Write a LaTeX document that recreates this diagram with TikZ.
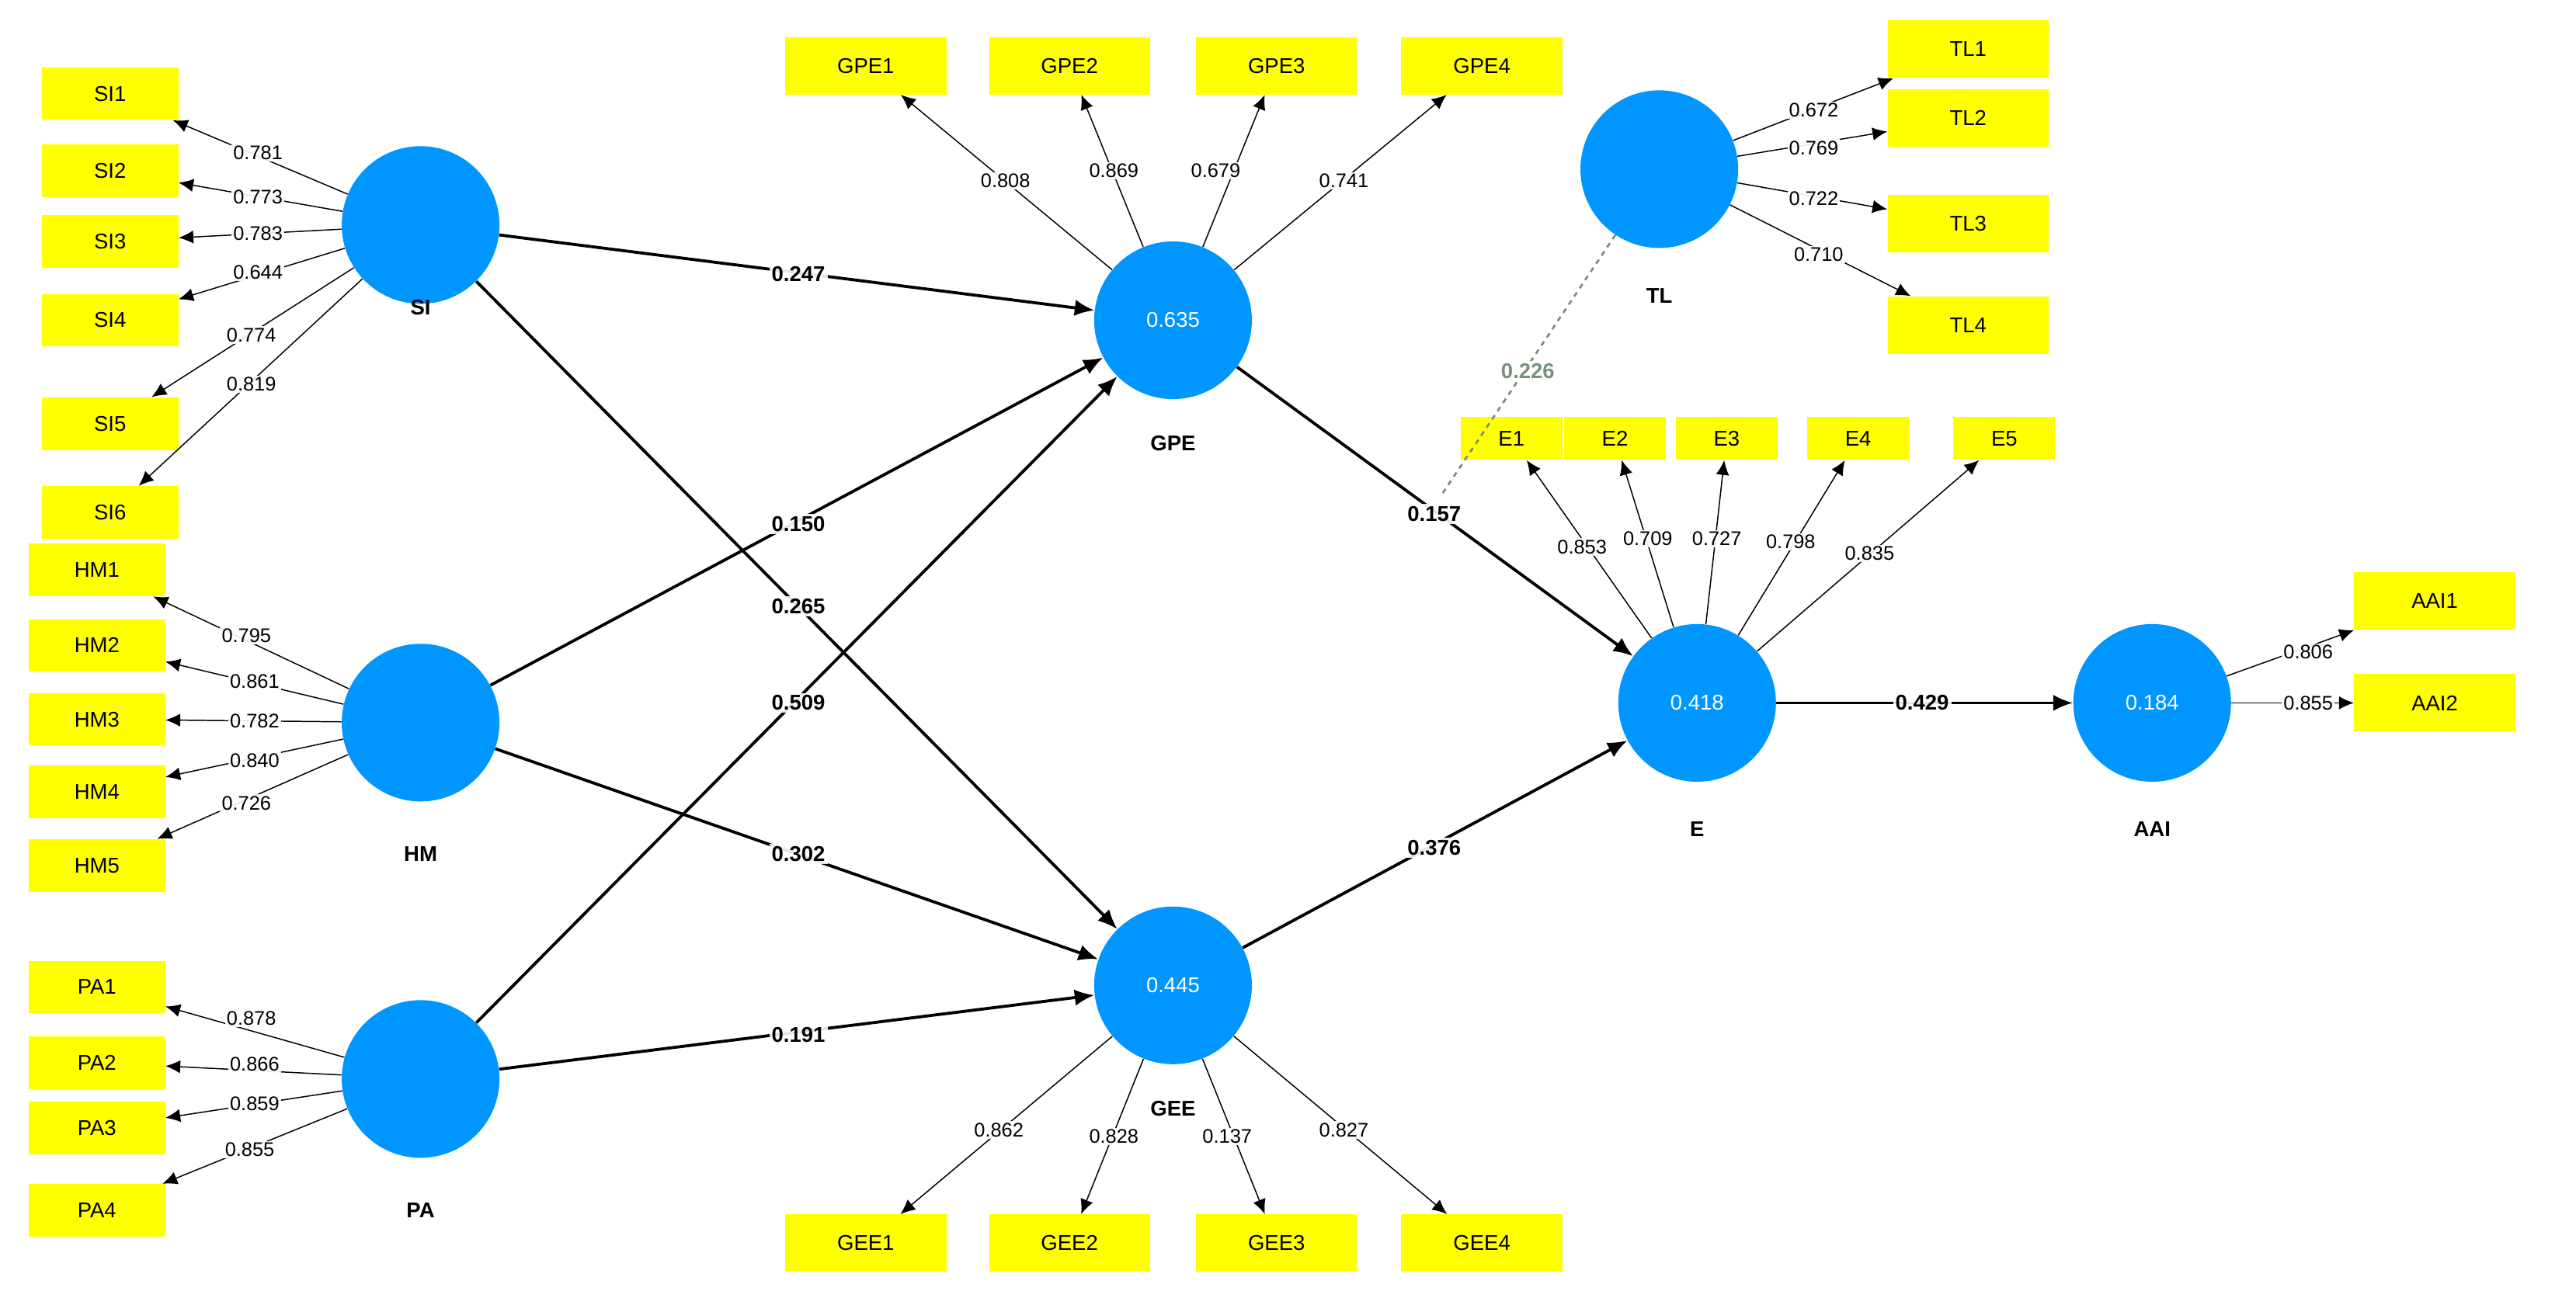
\documentclass[tikz,border=0pt]{standalone}
\usepackage{fontspec}
\setmainfont{Liberation Sans}
\usetikzlibrary{arrows.meta}
\definecolor{cblue}{RGB}{0,150,255}
\definecolor{cyel}{RGB}{255,255,0}
\definecolor{cgreen}{RGB}{120,145,125}
\begin{document}
\begin{tikzpicture}[x=1pt,y=-1pt,
  lv/.style={circle,fill=cblue,minimum size=96pt,inner sep=0pt,text=white,font=\fontsize{13}{13}\selectfont},
  nm/.style={font=\bfseries\fontsize{13}{13}\selectfont},
  box/.style={fill=cyel,minimum width=83pt,minimum height=32pt,inner sep=0pt,font=\fontsize{13}{13}\selectfont},
  boxw/.style={box,minimum width=98pt,minimum height=35pt},
  boxe/.style={box,minimum width=62pt,minimum height=26pt},
  ld/.style={-{Latex[length=9pt,width=8pt]},line width=0.7pt},
  pth/.style={-{Latex[length=12pt,width=10pt]},line width=1.8pt},
  ll/.style={fill=white,fill opacity=0.9,text opacity=1,inner sep=1pt,font=\fontsize{12}{12}\selectfont},
  pl/.style={fill=white,fill opacity=0.9,text opacity=1,inner sep=1.5pt,font=\bfseries\fontsize{13}{13}\selectfont}]
\useasboundingbox (0,0) rectangle (1568,790);
% latent variables
\node[lv] (SI) at (256,137) {};
\node[lv] (HM) at (256,440) {};
\node[lv] (PA) at (256,657) {};
\node[lv] (GPE) at (714,195) {0.635};
\node[lv] (GEE) at (714,600) {0.445};
\node[lv] (TL) at (1010,103) {};
\node[lv] (E) at (1033,428) {0.418};
\node[lv] (AAI) at (1310,428) {0.184};
\node[nm] (nSI) at (256,187) {SI};
\node[nm] (nHM) at (256,520) {HM};
\node[nm] (nPA) at (256,737) {PA};
\node[nm] (nGPE) at (714,270) {GPE};
\node[nm] (nGEE) at (714,675) {GEE};
\node[nm] (nTL) at (1010,180) {TL};
\node[nm] (nE) at (1033,505) {E};
\node[nm] (nAAI) at (1310,505) {AAI};
% indicators
\node[box] (SI1) at (67,57) {SI1};
\node[box] (SI2) at (67,104) {SI2};
\node[box] (SI3) at (67,147) {SI3};
\node[box] (SI4) at (67,195) {SI4};
\node[box] (SI5) at (67,258) {SI5};
\node[box] (SI6) at (67,312) {SI6};
\node[box] (HM1) at (59,347) {HM1};
\node[box] (HM2) at (59,393) {HM2};
\node[box] (HM3) at (59,438) {HM3};
\node[box] (HM4) at (59,482) {HM4};
\node[box] (HM5) at (59,527) {HM5};
\node[box] (PA1) at (59,601) {PA1};
\node[box] (PA2) at (59,647) {PA2};
\node[box] (PA3) at (59,687) {PA3};
\node[box] (PA4) at (59,737) {PA4};
\node[boxw] (GPE1) at (527,40) {GPE1};
\node[boxw] (GPE2) at (651,40) {GPE2};
\node[boxw] (GPE3) at (777,40) {GPE3};
\node[boxw] (GPE4) at (902,40) {GPE4};
\node[boxw] (GEE1) at (527,757) {GEE1};
\node[boxw] (GEE2) at (651,757) {GEE2};
\node[boxw] (GEE3) at (777,757) {GEE3};
\node[boxw] (GEE4) at (902,757) {GEE4};
\node[boxw] (TL1) at (1198,30) {TL1};
\node[boxw] (TL2) at (1198,72) {TL2};
\node[boxw] (TL3) at (1198,136) {TL3};
\node[boxw] (TL4) at (1198,198) {TL4};
\node[boxe] (E1) at (920,267) {E1};
\node[boxe] (E2) at (983,267) {E2};
\node[boxe] (E3) at (1051,267) {E3};
\node[boxe] (E4) at (1131,267) {E4};
\node[boxe] (E5) at (1220,267) {E5};
\node[boxw] (AAI1) at (1482,366) {AAI1};
\node[boxw] (AAI2) at (1482,428) {AAI2};
% loadings
\foreach \a/\b in {SI/SI1,SI/SI2,SI/SI3,SI/SI4,SI/SI5,SI/SI6,HM/HM1,HM/HM2,HM/HM3,HM/HM4,HM/HM5,PA/PA1,PA/PA2,PA/PA3,PA/PA4,GPE/GPE1,GPE/GPE2,GPE/GPE3,GPE/GPE4,GEE/GEE1,GEE/GEE2,GEE/GEE3,GEE/GEE4,TL/TL1,TL/TL2,TL/TL3,TL/TL4,E/E1,E/E2,E/E3,E/E4,E/E5,AAI/AAI1,AAI/AAI2}
  \draw[ld] (\a) -- (\b);
% structural paths
\draw[pth] (SI) -- (GPE);
\draw[pth] (SI) -- (GEE);
\draw[pth] (HM) -- (GPE);
\draw[pth] (HM) -- (GEE);
\draw[pth] (PA) -- (GPE);
\draw[pth] (PA) -- (GEE);
\draw[pth] (GPE) -- (E);
\draw[pth] (GEE) -- (E);
\draw[pth] (E) -- (AAI);
\coordinate (mod) at (877,302);
\draw[cgreen,dashed,line width=1.3pt] (TL) -- (mod);
% loading labels
\foreach \t/\x/\y in {0.781/157/93,0.773/157/120,0.783/157/142,0.644/157/166,0.774/153/204,0.819/153/234,
  0.795/150/387,0.861/155/415,0.782/155/439,0.840/155/463,0.726/150/489,
  0.878/153/620,0.866/155/648,0.859/155/672,0.855/152/700,
  0.808/612/110,0.869/678/104,0.679/740/104,0.741/818/110,
  0.862/608/688,0.828/678/692,0.137/747/692,0.827/818/688,
  0.672/1104/67,0.769/1104/90,0.722/1104/121,0.710/1107/155,
  0.853/963/333,0.709/1003/328,0.727/1045/328,0.798/1090/330,0.835/1138/337,
  0.806/1405/397,0.855/1405/428}
  \node[ll] at (\x,\y) {\t};
% path labels
\node[pl] (p1) at (486,167) {0.247};
\node[pl] (p2) at (486,319) {0.150};
\node[pl] (p3) at (486,369) {0.265};
\node[pl] (p4) at (486,428) {0.509};
\node[pl] (p5) at (486,520) {0.302};
\node[pl] (p6) at (486,630) {0.191};
\node[pl] (p7) at (873,313) {0.157};
\node[pl] (p8) at (873,516) {0.376};
\node[pl] (p9) at (1170,428) {0.429};
\node[pl,text=cgreen] (p10) at (930,226) {0.226};
\end{tikzpicture}
\end{document}
